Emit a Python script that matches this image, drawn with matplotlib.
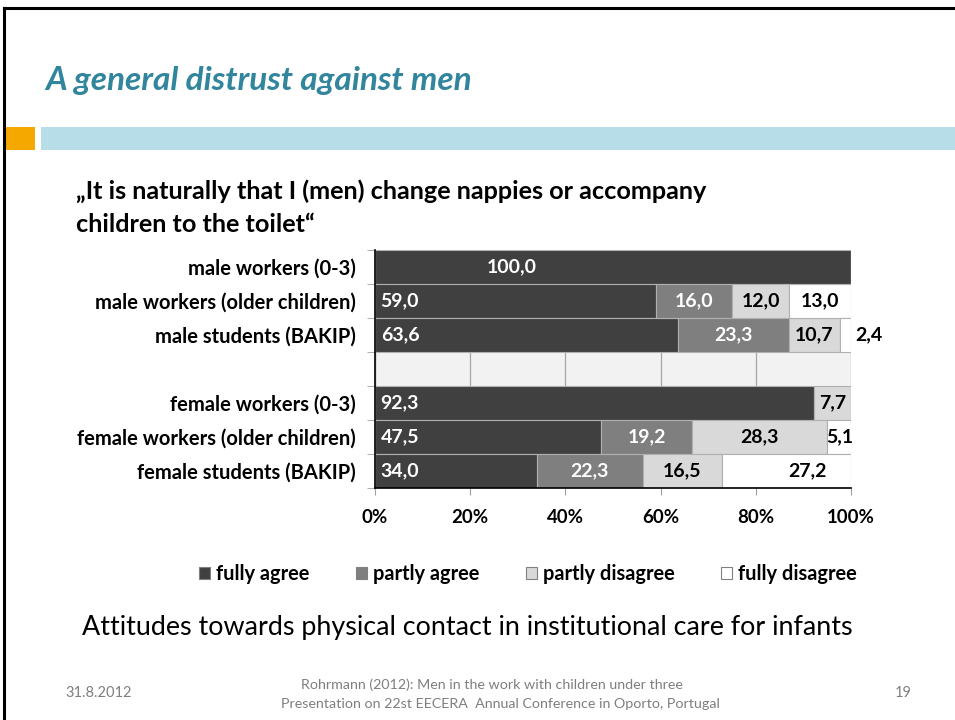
import numpy as np
import matplotlib
matplotlib.use("Agg")
import matplotlib.pyplot as plt
from matplotlib.patches import Rectangle
from matplotlib.lines import Line2D

# ---- data ----
categories = ["male workers (0-3)", "male workers (older children)", "male students (BAKIP)", "",
              "female workers (0-3)", "female workers (older children)", "female students (BAKIP)"]
series_names = ["fully agree", "partly agree", "partly disagree", "fully disagree"]
fully_agree = [100.0, 59.0, 63.6, 0, 92.3, 47.5, 34.0]
partly_agree = [0, 16.0, 23.3, 0, 0, 19.2, 22.3]
partly_disagree = [0, 12.0, 10.7, 0, 7.7, 28.3, 16.5]
fully_disagree = [0, 13.0, 2.4, 0, 0, 5.1, 27.2]
xticks = [0, 20, 40, 60, 80, 100]
xtick_labels = ["0%", "20%", "40%", "60%", "80%", "100%"]

colors = ["#404040", "#7f7f7f", "#d9d9d9", "#ffffff"]
label_colors = ["white", "white", "black", "black"]

FONT = "Lato"
plt.rcParams['font.family'] = [FONT, 'DejaVu Sans']

W, H = 955, 720
fig = plt.figure(figsize=(W / 100, H / 100), dpi=100)

def fx(x):
    return x / W

def fy(y):
    return 1 - y / H

# slide decorations
fig.add_artist(Line2D([fx(4), fx(4)], [fy(8), 0], transform=fig.transFigure, color="black", lw=2.2))
fig.add_artist(Line2D([fx(4), 1], [fy(8), fy(8)], transform=fig.transFigure, color="black", lw=2.2))
fig.add_artist(Rectangle((fx(5), fy(150)), fx(30), fy(127) - fy(150), transform=fig.transFigure,
                         color="#f5a800", lw=0))
fig.add_artist(Rectangle((fx(41), fy(150)), 1 - fx(41), fy(127) - fy(150), transform=fig.transFigure,
                         color="#b7dde8", lw=0))

fig.text(fx(45), fy(90), "A general distrust against men", fontsize=24, fontweight="bold",
         fontstyle="italic", color="#31859c", ha="left", va="baseline")

fig.text(fx(76), fy(199), "\u201eIt is naturally that I (men) change nappies or accompany",
         fontsize=18.2, fontweight="bold", color="black", ha="left", va="baseline")
fig.text(fx(76), fy(232), "children to the toilet\u201c",
         fontsize=18.2, fontweight="bold", color="black", ha="left", va="baseline")

# ---- chart ----
ax = fig.add_axes([fx(375), fy(488), fx(851) - fx(375), fy(250) - fy(488)])
ax.set_facecolor("#f2f2f2")
ypos = np.arange(len(categories))
series = [fully_agree, partly_agree, partly_disagree, fully_disagree]
VFS = 14
left = np.zeros(len(categories))
for si, vals in enumerate(series):
    vals = np.array(vals, dtype=float)
    ax.barh(ypos, vals, left=left, height=1.0, color=colors[si], edgecolor="#b0b0b0",
            linewidth=0.8, zorder=2, label=series_names[si])
    for i, v in enumerate(vals):
        if v <= 0:
            continue
        txt = f"{v:.1f}".replace(".", ",")
        if si == 0:
            if v >= 99.9:
                ax.text(28.8, i, txt, ha="center", va="center", color=label_colors[si],
                        fontsize=VFS, fontweight="bold", zorder=4)
            else:
                ax.text(1.2, i, txt, ha="left", va="center", color=label_colors[si],
                        fontsize=VFS, fontweight="bold", zorder=4)
        elif v < 4:
            ax.text(left[i] + v + 0.8, i, txt, ha="left", va="center", color="black",
                    fontsize=VFS, fontweight="bold", zorder=4, clip_on=False)
        else:
            cx = left[i] + v / 2
            if si == 3 and v > 20:
                cx += 4.5
            ax.text(cx, i, txt, ha="center", va="center", color=label_colors[si],
                    fontsize=VFS, fontweight="bold", zorder=4, clip_on=False)
    left = left + vals

ax.set_xlim(0, 100)
ax.set_ylim(len(categories) - 0.5, -0.5)
ax.set_xticks(xticks)
ax.set_xticklabels(xtick_labels, fontsize=13.4, fontweight="bold")
ax.set_yticks(ypos)
ax.set_yticklabels(categories, fontsize=14.5, fontweight="bold")
ax.set_yticks(np.arange(-0.5, len(categories) + 0.5, 1.0), minor=True)
ax.tick_params(axis="y", which="major", length=0, pad=13.7)
ax.tick_params(axis="y", which="minor", length=6, color="#a0a0a0", direction="out")
ax.tick_params(axis="x", which="major", length=5, color="#a0a0a0", direction="out", pad=10)
ax.grid(axis="x", color="#a6a6a6", lw=0.9, zorder=0)
ax.set_axisbelow(True)
for s in ["top", "right"]:
    ax.spines[s].set_visible(False)
for s in ["left", "bottom"]:
    ax.spines[s].set_color("black")
    ax.spines[s].set_linewidth(1.2)
    ax.spines[s].set_zorder(5)

# legend
handles = [Rectangle((0, 0), 1, 1, facecolor=colors[i], edgecolor="#808080", lw=0.8) for i in range(4)]
fig.legend(handles, series_names, loc="center", bbox_to_anchor=(fx(528), fy(574)), ncol=4,
           frameon=False, prop={"size": 14.4, "weight": "bold"}, handlelength=0.55, handleheight=0.55,
           handletextpad=0.3, columnspacing=2.33)

fig.text(fx(82), fy(628), "Attitudes towards physical contact in institutional care for infants",
         fontsize=19.4, color="black", ha="left", va="center")

# footer
fig.text(fx(65), fy(693), "31.8.2012", fontsize=10.5, color="#7f7f7f", ha="left", va="center")
fig.text(fx(492), fy(685), "Rohrmann (2012): Men in the work with children under three",
         fontsize=10.3, color="#7f7f7f", ha="center", va="center")
fig.text(fx(500), fy(704), "Presentation on 22st EECERA  Annual Conference in Oporto, Portugal",
         fontsize=10.3, color="#7f7f7f", ha="center", va="center")
fig.text(fx(903), fy(693), "19", fontsize=10.5, color="#7f7f7f", ha="center", va="center")

fig.savefig("out.png", dpi=100)
